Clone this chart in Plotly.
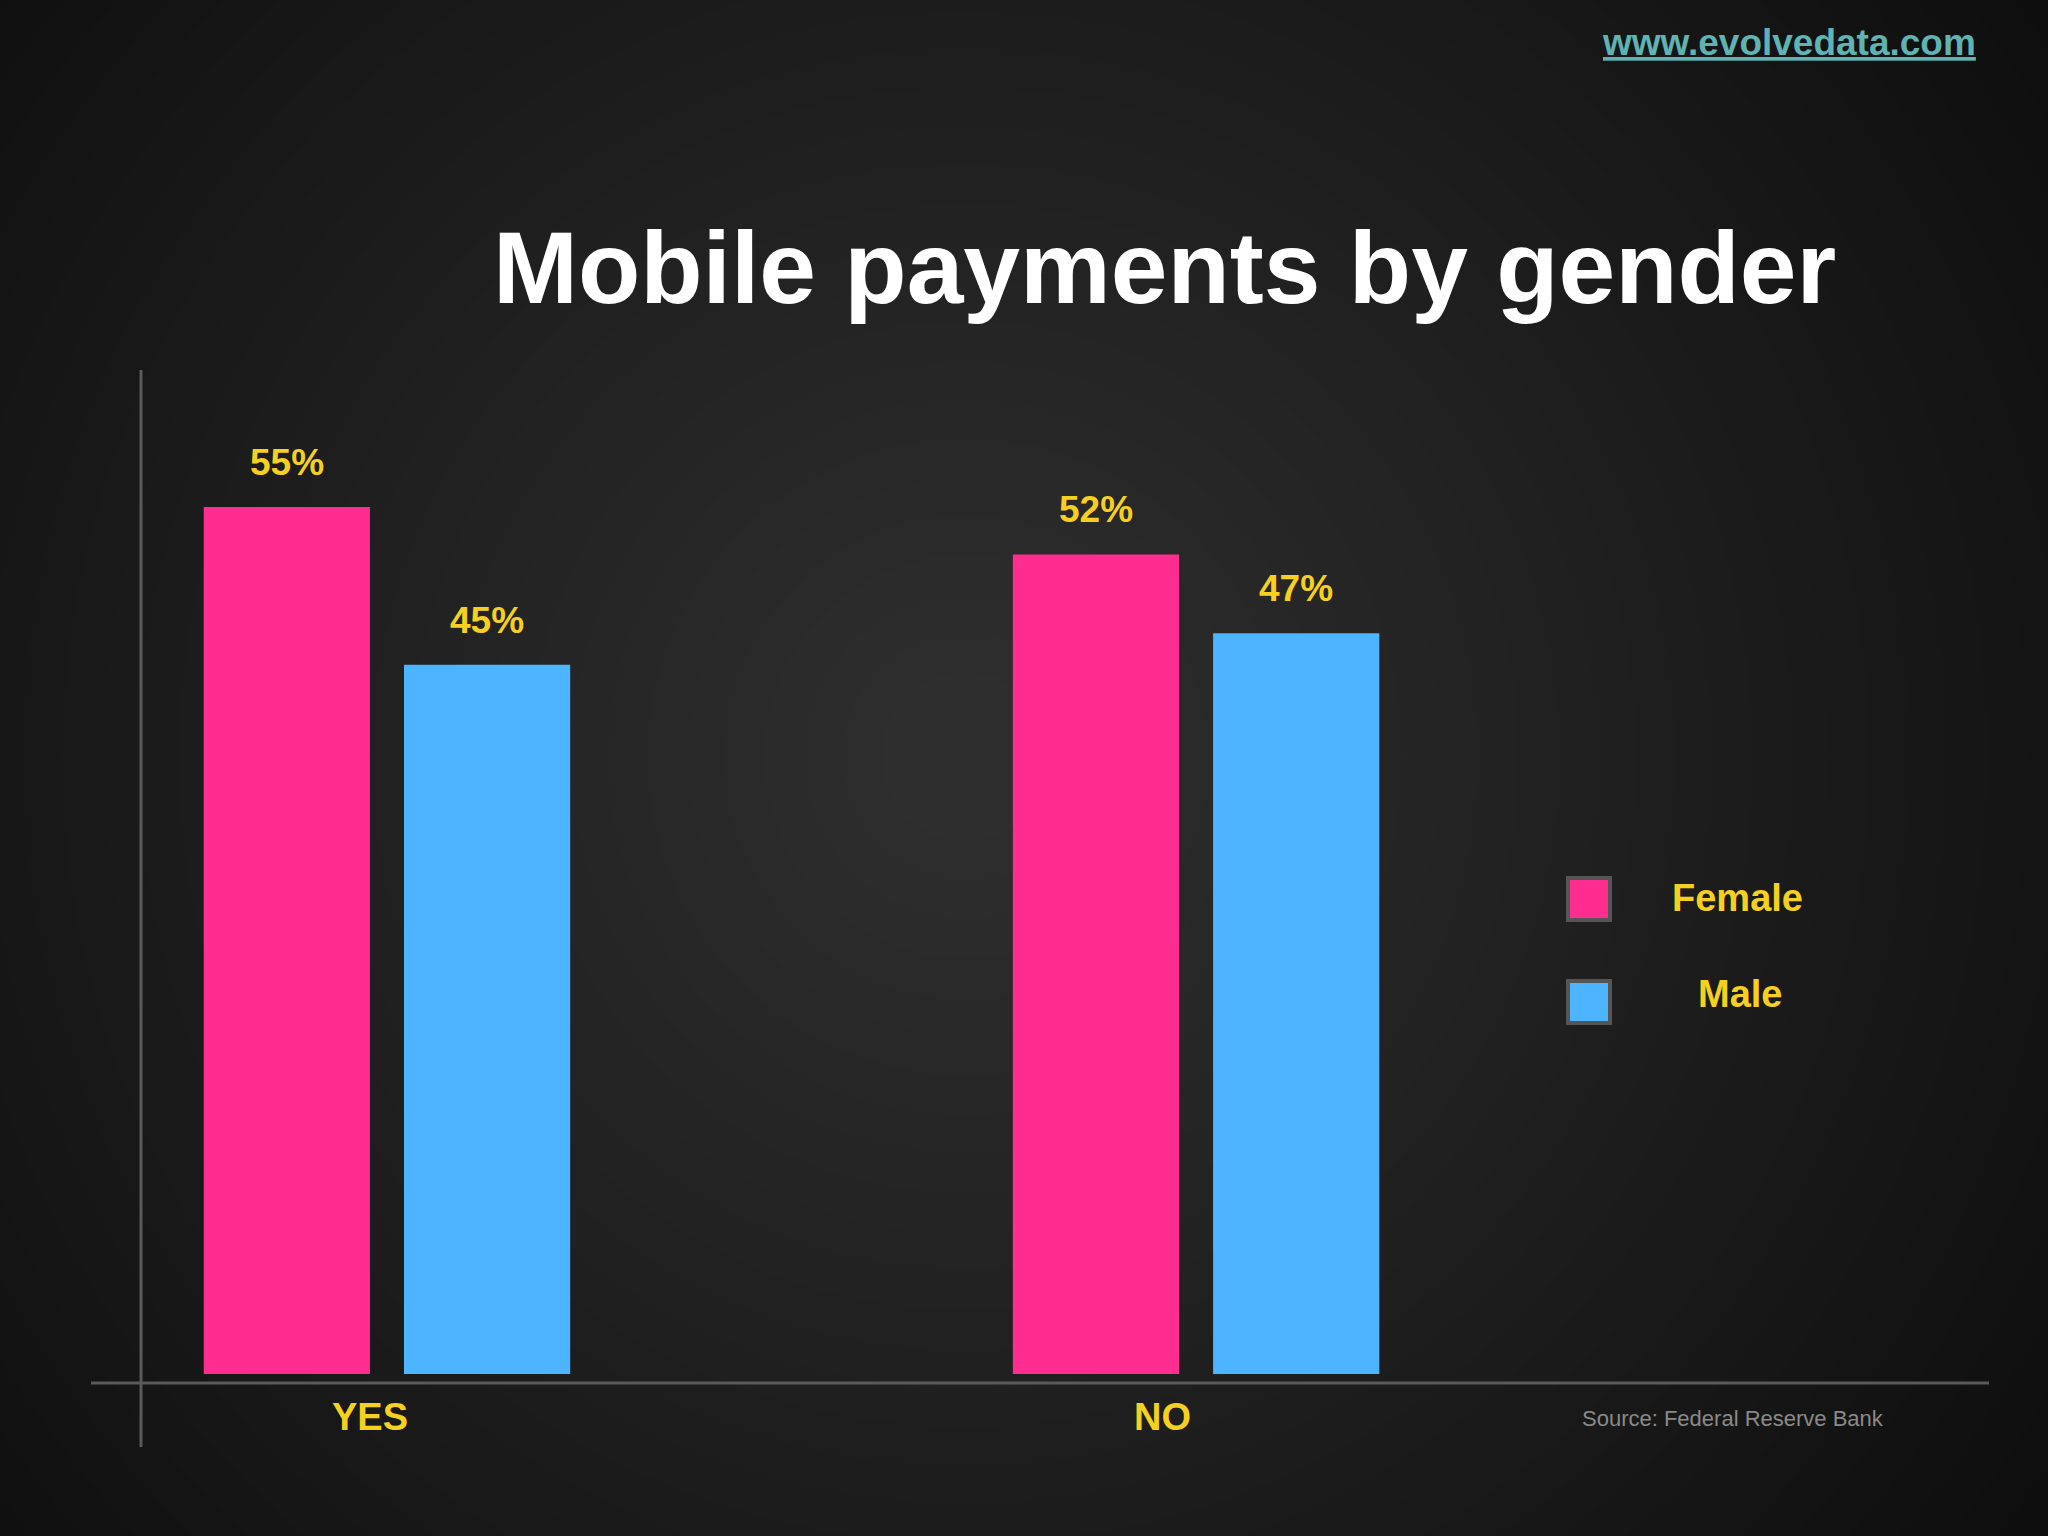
import plotly.graph_objects as go

categories = ["YES", "NO"]
female = [55, 52]
male = [45, 47]
female_labels = ["55%", "52%"]
male_labels = ["45%", "47%"]

W, H = 2048, 1536
PINK = "#ff2d8f"
BLUE = "#4db5ff"
YELLOW = "#f5d020"
BARGAP, GROUPGAP = 0.505, 0.17


def px(x, y):
    return x / W, 1 - y / H


fig = go.Figure()
fig.add_bar(x=[0, 1], y=female, marker_color=PINK, name="Female")
fig.add_bar(x=[0, 1], y=male, marker_color=BLUE, name="Male")
fig.update_traces(marker_line_width=0)

ann = []
# value labels above bars
off = (1 - BARGAP) / 4
for vals, labels, sign in [(female, female_labels, -1), (male, male_labels, 1)]:
    for i, (v, s) in enumerate(zip(vals, labels)):
        ann.append(dict(x=i + sign * off, y=v, text=f"<b>{s}</b>", showarrow=False,
                        yanchor="bottom", yshift=22,
                        font=dict(size=37, color=YELLOW, family="Liberation Sans")))

shapes = []
# radial background glow
cx, cy = 966, 757
n = 36
for i in range(n):
    r = 1450 - i * 39
    x0, y1 = px(cx - r, cy - r)
    x1, y0 = px(cx + r, cy + r)
    shapes.append(dict(type="circle", xref="paper", yref="paper", x0=x0, x1=x1, y0=y0, y1=y1,
                       fillcolor="rgba(255,255,255,0.0095)", line_width=0, layer="below"))
# axis lines
ax0, ay0 = px(91, 1383)
ax1, _ = px(1989, 1383)
shapes.append(dict(type="line", xref="paper", yref="paper", x0=ax0, x1=ax1, y0=ay0, y1=ay0,
                   line=dict(color="#5a5a5a", width=3)))
vx, vy0 = px(141, 370)
_, vy1 = px(141, 1447)
shapes.append(dict(type="line", xref="paper", yref="paper", x0=vx, x1=vx, y0=vy0, y1=vy1,
                   line=dict(color="#5a5a5a", width=3)))
# legend squares
for yc, col in [(899, PINK), (1002, BLUE)]:
    x0, y1 = px(1568, yc - 21)
    x1, y0 = px(1610, yc + 21)
    shapes.append(dict(type="rect", xref="paper", yref="paper", x0=x0, x1=x1, y0=y0, y1=y1,
                       fillcolor=col, line=dict(color="#555555", width=4)))


def text(x, y, s, size, color):
    xx, yy = px(x, y)
    ann.append(dict(xref="paper", yref="paper", x=xx, y=yy, text=s, showarrow=False,
                    xanchor="center", yanchor="middle",
                    font=dict(size=size, color=color, family="Liberation Sans")))


text(1164, 268, "<b>Mobile payments by gender</b>", 102, "white")
text(1789, 43, "<b><u>www.evolvedata.com</u></b>", 37, "#5fb3b3")
text(370, 1417, "<b>YES</b>", 38, YELLOW)
text(1162, 1417, "<b>NO</b>", 38, YELLOW)
text(1737, 898, "<b>Female</b>", 38, YELLOW)
text(1740, 994, "<b>Male</b>", 38, YELLOW)
text(1733, 1418, "Source: Federal Reserve Bank", 22, "#8a8a8a")

fig.update_layout(
    width=W, height=H, margin=dict(l=0, r=0, t=0, b=0),
    paper_bgcolor="#0a0a0a", plot_bgcolor="rgba(0,0,0,0)",
    barmode="group", bargap=BARGAP, bargroupgap=GROUPGAP,
    showlegend=False, shapes=shapes, annotations=ann,
    xaxis=dict(domain=[141 / W, 1989 / W], range=[-0.304, 1.98], visible=False),
    yaxis=dict(domain=[1 - 1374 / H, 1 - 370 / H], range=[0, 63.7], visible=False),
)
fig.write_html("out.html", config={"displayModeBar": False},
               post_script="document.body.style.margin='0';")
